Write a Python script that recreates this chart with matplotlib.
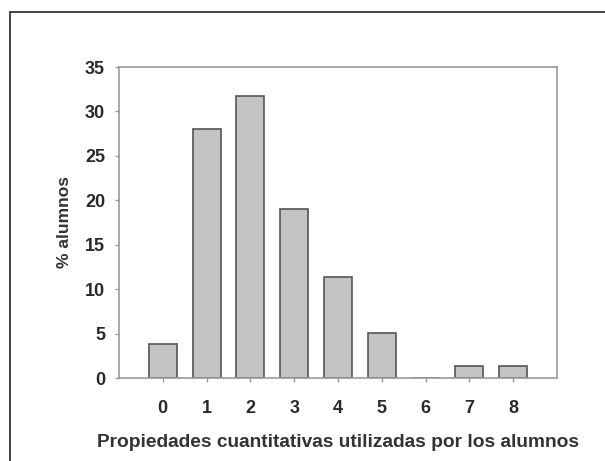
import numpy as np
import matplotlib.pyplot as plt
from matplotlib.patches import Rectangle

categories = [0, 1, 2, 3, 4, 5, 6, 7, 8]
pct_alumnos = [3.8, 28.0, 31.7, 19.0, 11.4, 5.1, 0.0, 1.3, 1.3]
y_ticks = [0, 5, 10, 15, 20, 25, 30, 35]

plt.rcParams['font.family'] = ['Liberation Sans', 'DejaVu Sans']

fig = plt.figure(figsize=(6.05, 4.61), dpi=100)
ax = fig.add_axes([119 / 605, 1 - 378 / 461, (557 - 119) / 605, (378 - 67) / 461])

# outer frame, open on the right and bottom
fig.add_artist(Rectangle((10 / 605, -0.1), 1.2, 1 - 12 / 461 + 0.1,
                         transform=fig.transFigure, fill=False,
                         edgecolor='#222222', linewidth=1.2))

ax.bar(categories, pct_alumnos, width=0.64, color='#c4c4c4',
       edgecolor='#555555', linewidth=1.2)

ax.set_xlim(-1, 9)
ax.set_ylim(0, 35)
ax.set_xticks(categories)
ax.set_yticks(y_ticks)
for s in ax.spines.values():
    s.set_color('#999999')
    s.set_linewidth(1.2)
ax.tick_params(length=3, width=1, color='#999999', labelcolor='#2a2a2a', labelsize=13)
ax.tick_params(axis='x', pad=13)
ax.tick_params(axis='y', pad=7)
for lab in ax.get_xticklabels() + ax.get_yticklabels():
    lab.set_fontweight('bold')

ax.set_ylabel('% alumnos', fontsize=12.5, fontweight='bold', color='#333333', labelpad=9)
ax.set_xlabel('Propiedades cuantitativas utilizadas por los alumnos', fontsize=13.8,
              fontweight='bold', color='#333333', labelpad=12)

fig.savefig('out.png', dpi=100)
